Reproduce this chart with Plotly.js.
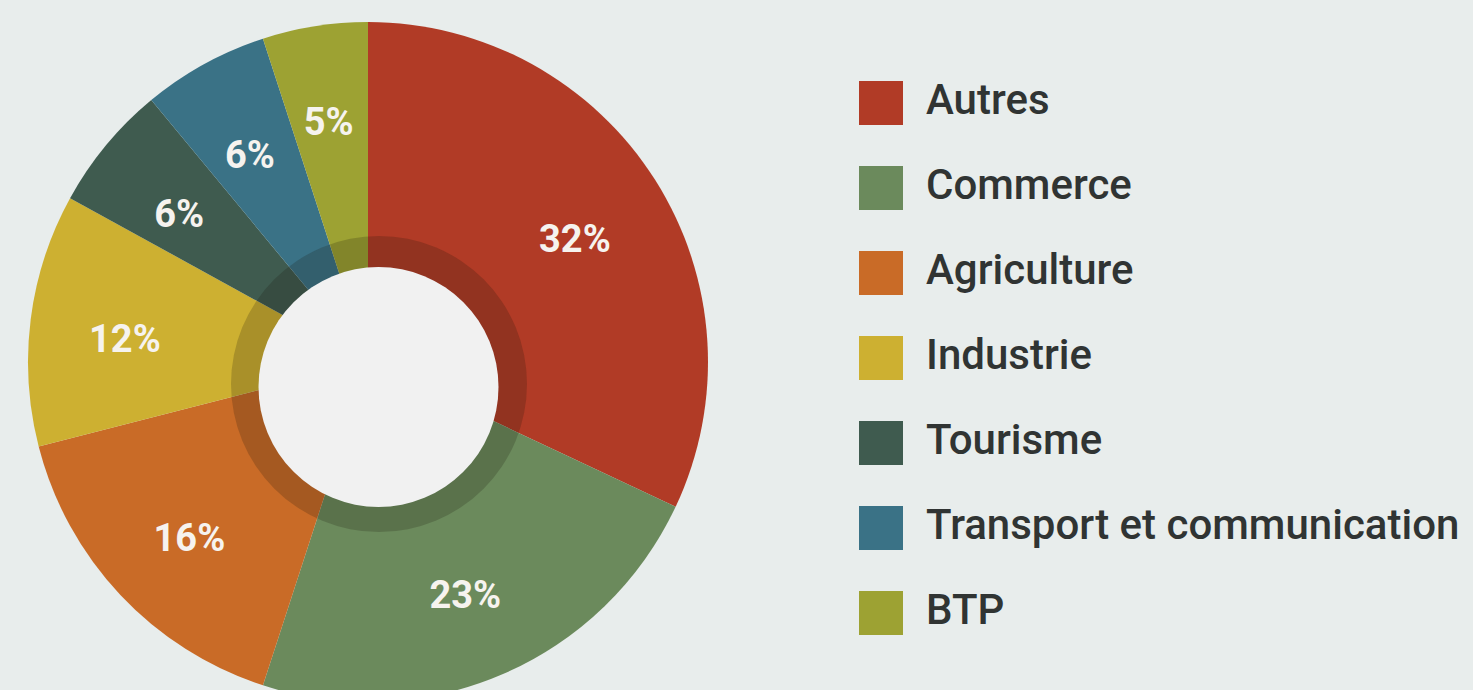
<!DOCTYPE html>
<html>
<head>
<meta charset="utf-8">
<script src="https://cdn.plot.ly/plotly-3.0.1.min.js"></script>
<style>
  html, body { margin: 0; padding: 0; background: #e8edec; overflow: hidden; }
  #frame { width: 1473px; height: 690px; overflow: hidden; }
</style>
</head>
<body>
<div id="frame"><div id="chart"></div></div>
<script>
// secteurs et parts (%)
const labels = ['Autres', 'Commerce', 'Agriculture', 'Industrie', 'Tourisme', 'Transport et communication', 'BTP'];
const shares = [32, 23, 16, 12, 6, 6, 5];
const colors = ['#b13b26', '#6b8a5c', '#c96b27', '#cdb031', '#3f5b4f', '#3a7286', '#9da233'];

var W = 1473, H = 724;   // figure a bit taller than the window so the pie is cut at the bottom
var bg = '#e8edec';

function px(x) { return x / W; }
function py(y) { return 1 - y / H; }

// pie centre and radius, in pixels
var cx = 368, cy = 362, R = 340;
var Rtext = 290, cyText = 370;

var pieMain = {
    type: 'pie',
    labels: labels,
    values: shares,
    sort: false,
    direction: 'clockwise',
    rotation: 0,
    marker: { colors: colors, line: { width: 0 } },
    textinfo: 'none',
    hoverinfo: 'none',
    showlegend: false,
    domain: { x: [px(cx - R), px(cx + R)], y: [py(cy + R), py(cy - R)] }
};

// same slices again, transparent, only to carry the % labels in a ring
var pieText = {
    type: 'pie',
    labels: labels,
    values: shares,
    sort: false,
    direction: 'clockwise',
    rotation: 0,
    hole: 0.69,
    marker: { colors: labels.map(() => 'rgba(0,0,0,0)'), line: { width: 0 } },
    texttemplate: '%{value}%',
    textposition: 'inside',
    insidetextorientation: 'horizontal',
    insidetextfont: { family: 'Roboto', size: 38, weight: 700, color: '#f6f3ef' },
    hoverinfo: 'none',
    showlegend: false,
    domain: { x: [px(cx - Rtext), px(cx + Rtext)], y: [py(cyText + Rtext), py(cyText - Rtext)] }
};

// legend drawn as a small scatter: squares + names on a category axis
var legendSquares = {
    type: 'scatter',
    mode: 'markers',
    x: labels.map(() => 0),
    y: labels,
    marker: { symbol: 'square', size: 44, color: colors, line: { width: 0 } },
    hoverinfo: 'none',
    showlegend: false
};

var legendNames = {
    type: 'scatter',
    mode: 'text',
    x: labels.map(() => 1),
    y: labels,
    text: labels,
    textposition: 'middle right',
    textfont: { family: 'Roboto', size: 42, weight: 500, color: '#303433' },
    hoverinfo: 'none',
    showlegend: false
};

// x axis: unit 0 -> square centre (881px), unit 1 -> text start (926px)
var xDomLeft = 736.5, unitPx = 45, sqCentre = 881;
var x0 = -(sqCentre - xDomLeft) / unitPx;
var x1 = x0 + (W - xDomLeft) / unitPx;
var rowTop = 60.5, rowStep = 85;

function circle(x, y, r, fill) {
    return {
        type: 'circle', xref: 'paper', yref: 'paper', layer: 'above',
        x0: px(x - r), x1: px(x + r), y0: py(y + r), y1: py(y - r),
        fillcolor: fill, line: { width: 0 }
    };
}

var layout = {
    width: W,
    height: H,
    margin: { l: 0, r: 0, t: 0, b: 0 },
    paper_bgcolor: bg,
    plot_bgcolor: bg,
    showlegend: false,
    uniformtext: { mode: 'show', minsize: 38 },
    xaxis: { domain: [px(xDomLeft), 1], range: [x0, x1], visible: false, fixedrange: true },
    yaxis: {
        domain: [py(rowTop + rowStep * labels.length), py(rowTop)],
        type: 'category', categoryorder: 'array', categoryarray: labels,
        range: [labels.length - 0.5, -0.5], visible: false, fixedrange: true
    },
    shapes: [
        circle(379, 384, 148, 'rgba(25,20,10,0.2)'),
        circle(378.5, 387, 120, '#f1f1f1')
    ]
};

Plotly.newPlot('chart', [pieMain, pieText, legendSquares, legendNames], layout, { displayModeBar: false, staticPlot: true });
</script>
</body>
</html>
